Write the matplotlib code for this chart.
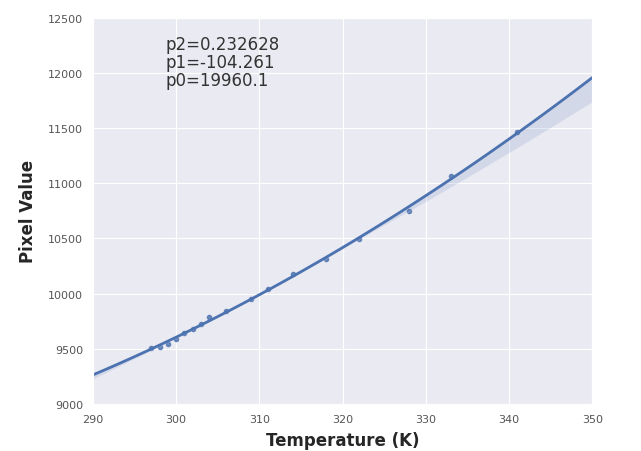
import numpy as np
import pandas as pd
import seaborn as sns
import matplotlib
matplotlib.use('Agg')
import matplotlib.pyplot as plt

temperature = [297, 298, 299, 300, 301, 302, 303, 304, 306, 309, 311, 314, 318, 322, 328, 333, 341]
pixel_value = [9505, 9520, 9545, 9590, 9640, 9680, 9725, 9787, 9845, 9949, 10040, 10175, 10311, 10495, 10745, 11065, 11459]
fit_text = "p2=0.232628\np1=-104.261\np0=19960.1"

sns.set_style('darkgrid')
df = pd.DataFrame({'Temperature (K)': temperature, 'Pixel Value': pixel_value})

fig = plt.figure(figsize=(6.41, 4.52), dpi=100)
ax = fig.add_axes([0.145, 0.104, 0.779, 0.855])
ax.set_xlim(290, 350)
sns.regplot(x='Temperature (K)', y='Pixel Value', data=df, order=2, truncate=False,
            ax=ax, seed=7, ci=80, color='#4C72B0',
            scatter_kws={'s': 9}, line_kws={'lw': 2})
ax.set_xlim(290, 350)
ax.set_ylim(9000, 12500)
ax.set_xticks(np.arange(290, 351, 10))
ax.set_yticks(np.arange(9000, 12501, 500))
ax.tick_params(labelsize=8, colors='#555555')
ax.set_xlabel('Temperature (K)', fontsize=12, fontweight='bold', labelpad=5)
ax.set_ylabel('Pixel Value', fontsize=12, fontweight='bold', labelpad=8)
ax.text(0.145, 0.955, fit_text, transform=ax.transAxes, va='top', fontsize=12, color='#333333',
        linespacing=1.0)

fig.savefig('out.png', dpi=100)
